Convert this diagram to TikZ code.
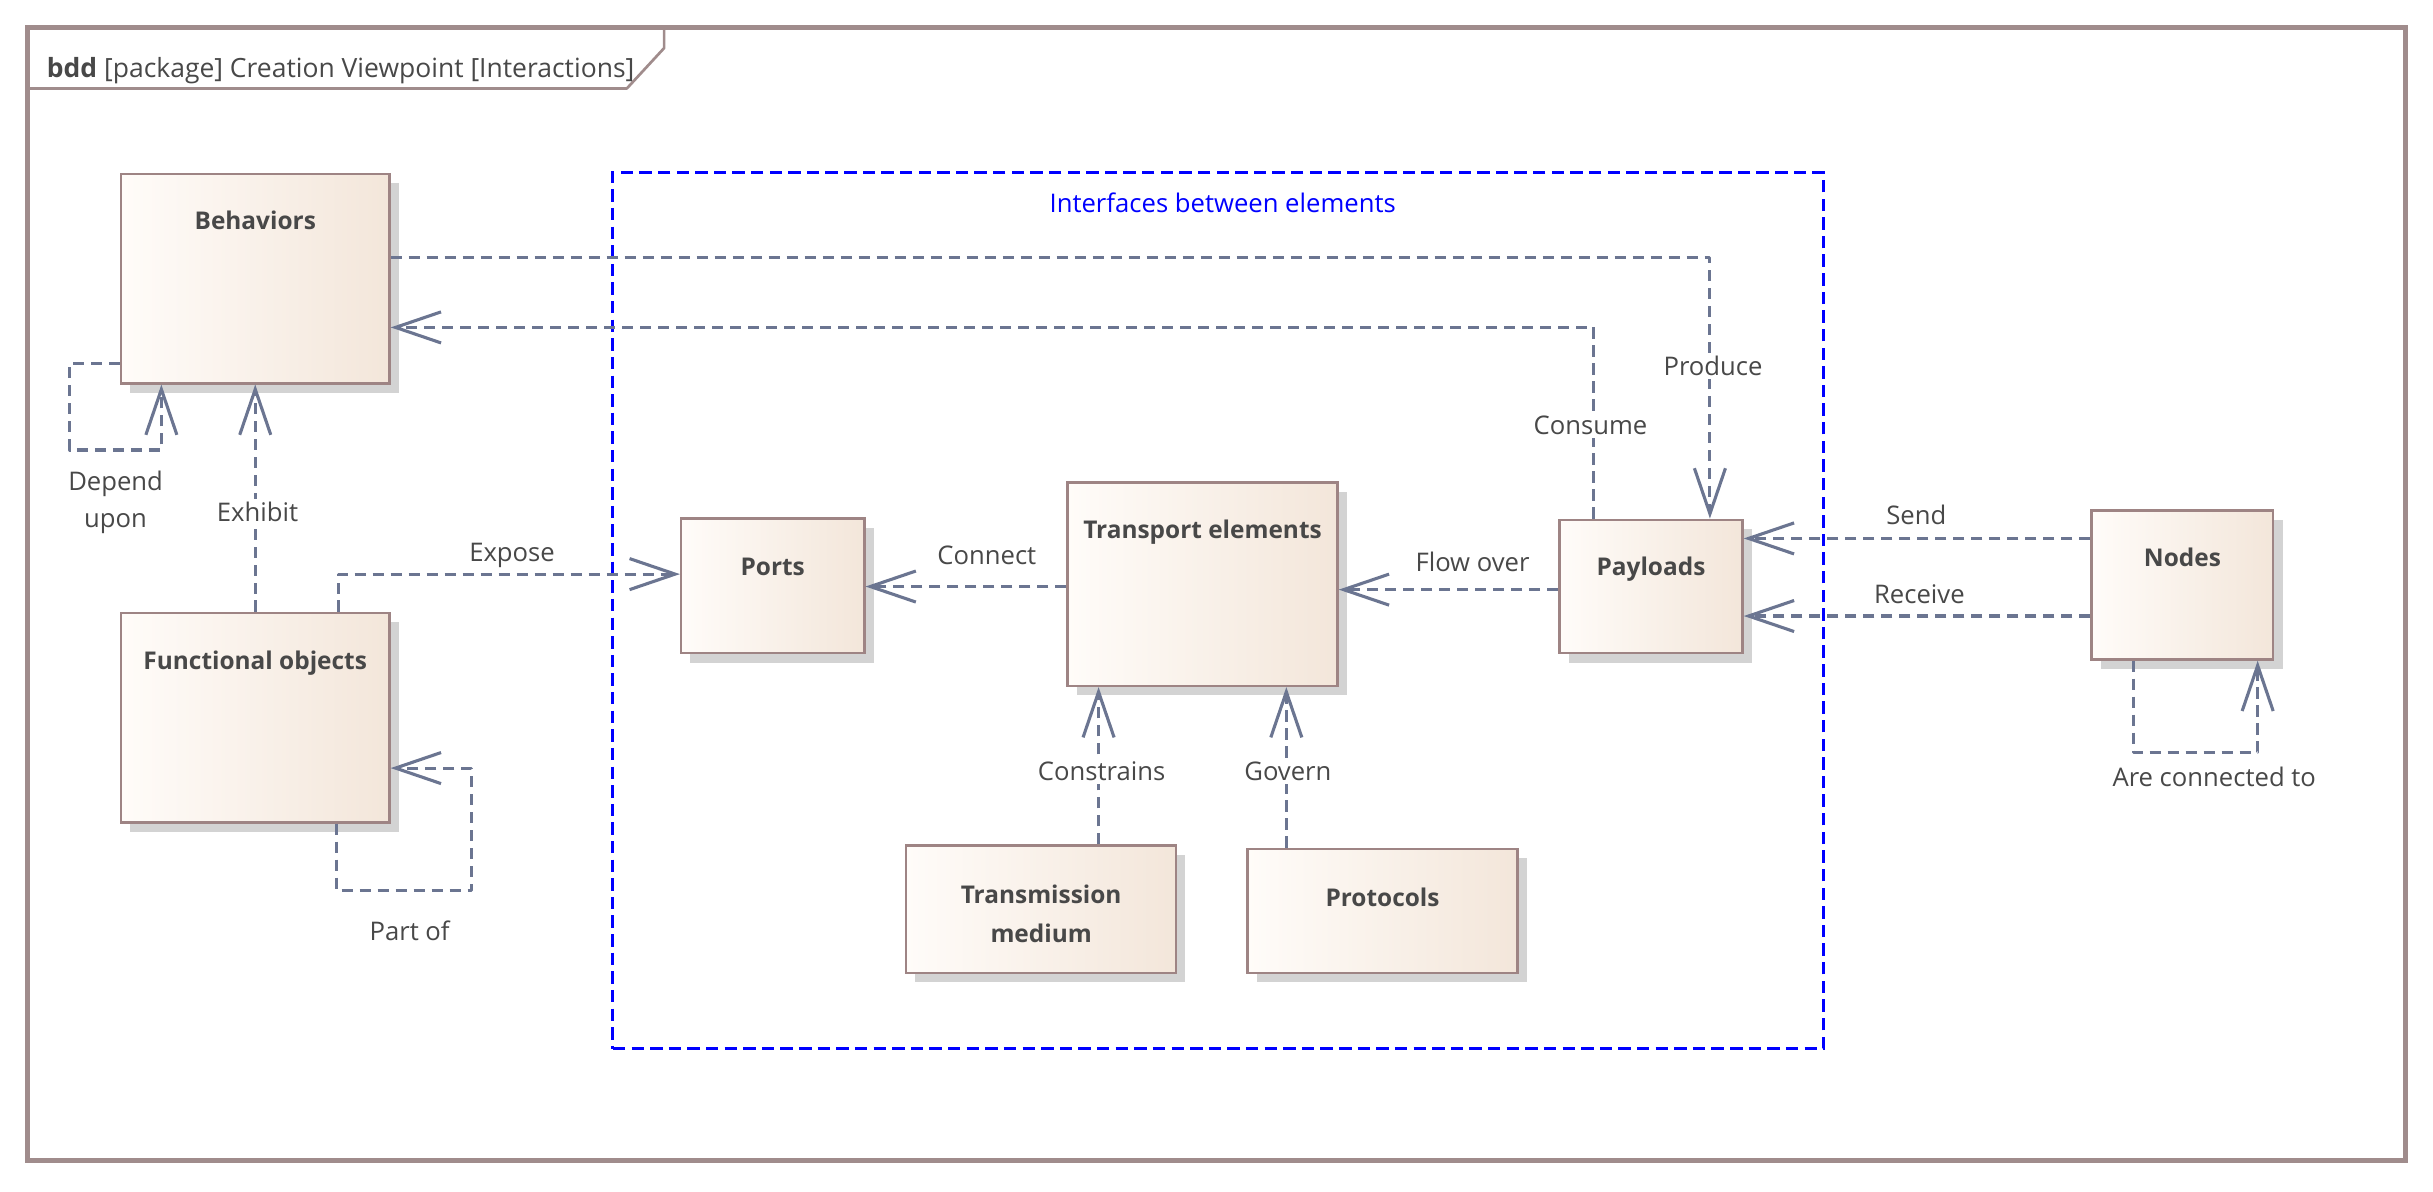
\documentclass[tikz,border=0pt]{standalone}
\usepackage{fontspec}
\setmainfont{Open Sans}
\usetikzlibrary{arrows.meta,shadows,calc}
\definecolor{boxc}{RGB}{158,132,132}
\definecolor{boxl}{RGB}{255,252,249}
\definecolor{boxr}{RGB}{243,230,218}
\definecolor{shc}{RGB}{211,211,211}
\definecolor{connc}{RGB}{107,117,145}
\definecolor{txtc}{RGB}{72,72,72}
\definecolor{framec}{RGB}{160,140,140}
\definecolor{ifcblue}{RGB}{0,0,255}
\begin{document}
\begin{tikzpicture}[x=0.75pt,y=-0.75pt,
  sz/.style 2 args={minimum width=#1*0.75pt,minimum height=#2*0.75pt},
  box/.style={draw=boxc,line width=1.2pt,left color=boxl,right color=boxr,inner sep=0pt,
    general shadow={fill=shc,shadow xshift=4.5pt,shadow yshift=-4.5pt}},
  ttl/.style={text=txtc,font=\fontsize{11.8}{18.75}\selectfont\bfseries,inner sep=0pt,align=center},
  lab/.style={text=txtc,font=\fontsize{12.4}{18}\selectfont,inner sep=1.5pt,fill=white,align=center},
  hdr/.style={text=txtc,font=\fontsize{12.8}{15}\selectfont,inner sep=0pt},
  conn/.style={draw=connc,line width=1.5pt,dash pattern=on 5.4pt off 3.3pt,line join=round,
    -{Straight Barb[length=22pt,width=15pt,line width=1.5pt]}},
  ifcbox/.style={draw=ifcblue,line width=1.5pt,dash pattern=on 6pt off 3pt,inner sep=0pt},
  framebox/.style={draw=framec,line width=2.4pt,inner sep=0pt},
  tabline/.style={draw=framec,line width=1.3pt,line join=round}
]
\useasboundingbox (0,0) rectangle (1568,767.6);

% frame
\node[framebox,sz={1532}{730}] (frame) at (784,383) {};
\coordinate (tab1) at (404,57);
\coordinate (tab2) at (428,31);
\draw[tabline] (frame.west |- tab1) -- (tab1) -- (tab2) -- (tab2 |- frame.north);
\node[hdr,anchor=base west] (hdr) at (30,50) {\textbf{bdd} [package] Creation Viewpoint [Interactions]};

% interfaces region
\node[ifcbox,sz={780}{565}] (ifc) at (785,393.5) {};
\node[text=ifcblue,font=\fontsize{12.4}{15}\selectfont,inner sep=0pt,anchor=base] (ifcT) at (788,137) {Interfaces between elements};

% boxes
\node[box,sz={173}{135}] (beh) at (164.5,179.5) {};
\node[box,sz={173}{135}] (fun) at (164.5,462.5) {};
\node[box,sz={118}{87}] (ports) at (498,377.5) {};
\node[box,sz={174}{131}] (trans) at (775,376.5) {};
\node[box,sz={118}{86}] (pay) at (1064,378) {};
\node[box,sz={117}{96}] (nodes) at (1406.5,377) {};
\node[box,sz={174}{82}] (tm) at (671,586) {};
\node[box,sz={174}{80}] (prot) at (891,587) {};

% titles
\node[ttl,anchor=base] (behT) at ($(beh.north)+(0,37)$) {Behaviors};
\node[ttl,anchor=base] (funT) at ($(fun.north)+(0,37)$) {Functional objects};
\node[ttl,anchor=base] (portsT) at ($(ports.north)+(0,38)$) {Ports};
\node[ttl,anchor=base] (transT) at ($(trans.north)+(0,37)$) {Transport elements};
\node[ttl,anchor=base] (payT) at ($(pay.north)+(0,37)$) {Payloads};
\node[ttl,anchor=base] (nodesT) at ($(nodes.north)+(0,37)$) {Nodes};
\node[ttl] (tmT) at (671,589) {Transmission\\medium};
\node[ttl,anchor=base] (protT) at ($(prot.north)+(0,38)$) {Protocols};

% helper coordinates
\coordinate (dep1) at (45,234);
\coordinate (dep2) at (45,290);
\coordinate (dep3) at (104,290);
\coordinate (exp1) at (218,370);
\coordinate (po1) at (217,574);
\coordinate (po2) at (304,574);
\coordinate (po3) at (304,495);
\coordinate (cny) at (0,378);
\coordinate (fly) at (0,380);
\coordinate (csx) at (708,0);
\coordinate (gvx) at (829,0);
\coordinate (pr1) at (1102,166);
\coordinate (co1) at (1027,211);
\coordinate (sdy) at (0,347);
\coordinate (rcy) at (0,397);
\coordinate (ac1) at (1375,485);
\coordinate (ac2) at (1455,485);

% connectors
\draw[conn] (beh.west |- dep1) -- (dep1) -- (dep2) -- (dep3) -- (dep3 |- beh.south);
\draw[conn] (fun.north) -- (beh.south);
\draw[conn] (fun.north -| exp1) -- (exp1) -- (exp1 -| ports.west);
\draw[conn] (fun.south -| po1) -- (po1) -- (po2) -- (po3) -- (po3 -| fun.east);
\draw[conn] (trans.west |- cny) -- (ports.east |- cny);
\draw[conn] (pay.west |- fly) -- (trans.east |- fly);
\draw[conn] (tm.north -| csx) -- (trans.south -| csx);
\draw[conn] (prot.north -| gvx) -- (trans.south -| gvx);
\draw[conn] (beh.east |- pr1) -- (pr1) -- (pr1 |- pay.north);
\draw[conn] (pay.north -| co1) -- (co1) -- (co1 -| beh.east);
\draw[conn] (nodes.west |- sdy) -- (pay.east |- sdy);
\draw[conn] (nodes.west |- rcy) -- (pay.east |- rcy);
\draw[conn] (nodes.south -| ac1) -- (ac1) -- (ac2) -- (ac2 |- nodes.south);

% labels
\node[lab] (lDep) at (74.5,323.5) {Depend\\upon};
\node[lab,anchor=base] (lEx) at (166,336) {Exhibit};
\node[lab,anchor=base] (lExp) at (330,362) {Expose};
\node[lab,anchor=base] (lPo) at (264,606) {Part of};
\node[lab,anchor=base] (lCn) at (636,364) {Connect};
\node[lab,anchor=base] (lFl) at (949,368) {Flow over};
\node[lab,anchor=base] (lCs) at (710,503) {Constrains};
\node[lab,anchor=base] (lGv) at (830,503) {Govern};
\node[lab,anchor=base] (lPr) at (1104,242) {Produce};
\node[lab,anchor=base] (lCo) at (1025,280) {Consume};
\node[lab,anchor=base] (lSd) at (1235,338) {Send};
\node[lab,anchor=base] (lRc) at (1237,389) {Receive};
\node[lab,anchor=base] (lAc) at (1427,507) {Are connected to};
\end{tikzpicture}
\end{document}
